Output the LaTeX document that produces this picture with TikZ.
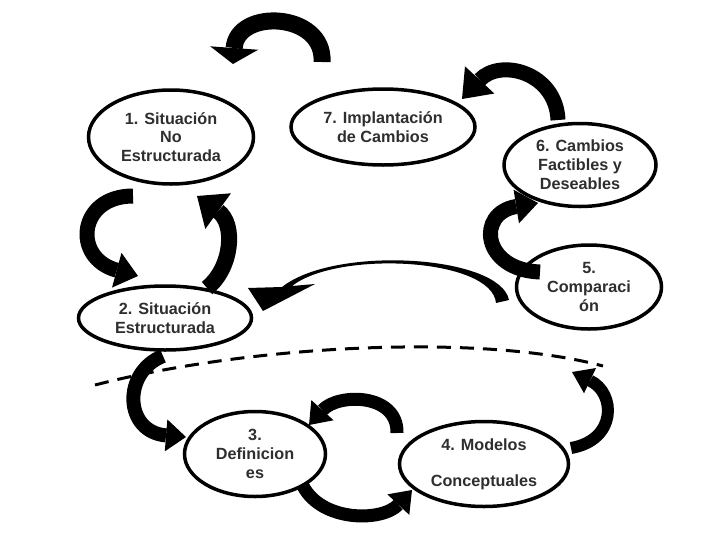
\documentclass[tikz,border=0pt]{standalone}
\usepackage{fontspec}
\setmainfont{Liberation Sans}
\usetikzlibrary{arrows.meta,shapes.geometric}
\begin{document}
\begin{tikzpicture}[x=1pt,y=-1pt,
  stage/.style={ellipse,draw=black,fill=white,line width=3.5pt,inner sep=0pt,align=center,
    font=\fontsize{16.2}{18.8}\selectfont\bfseries,text=black!82},
  band/.style={draw=black,line width=#1},
  dashline/.style={draw=black,line width=3pt,dash pattern=on 14pt off 9pt}
]
\useasboundingbox (0,0) rectangle (722,557);
\fill[white] (0,0) rectangle (722,557);

% nodes
\node[stage,minimum width=165pt,minimum height=94pt] (n1) at (171,137) {1. Situación\\No\\Estructurada};
\node[stage,minimum width=184pt,minimum height=76pt] (n7) at (383,127) {7. Implantación\\de Cambios};
\node[stage,minimum width=152pt,minimum height=83pt] (n6) at (580,165) {6. Cambios\\Factibles y\\Deseables};
\node[stage,minimum width=145pt,minimum height=84pt] (n5) at (589,287) {5.\\Comparaci\\ón};
\node[stage,minimum width=173pt,minimum height=64pt] (n2) at (165,318) {2. Situación\\Estructurada};
\node[stage,minimum width=141pt,minimum height=85pt] (n3) at (255,454) {3.\\Definicion\\es};
\node[stage,minimum width=169pt,minimum height=85pt] (n4) at (484,464) {4. Modelos\\[17pt]Conceptuales};

% arrow end points
\coordinate (aS) at (322,62);  \coordinate (aE) at (233,64);
\coordinate (bS) at (558,120); \coordinate (bE) at (462,99);
\coordinate (cS) at (133,196); \coordinate (cE) at (138,276);
\coordinate (dS) at (207,288); \coordinate (dE) at (197,196);
\coordinate (fS) at (540,272); \coordinate (fE) at (538,203);
\coordinate (gS) at (163,356); \coordinate (gE) at (186,437);
\coordinate (hS) at (397,433); \coordinate (hE) at (309,425);
\coordinate (kS) at (303,486); \coordinate (kE) at (412,490);
\coordinate (iS) at (571,448); \coordinate (iE) at (572,372);

% block arrows
\draw[band=17pt,-{Triangle[width=48pt,length=16pt,line width=0pt]}] (aS) .. controls (325,12) and (237,8) .. (aE);
\draw[band=15pt,-{Triangle[width=40pt,length=26pt,line width=0pt]}] (bS) .. controls (556,72) and (500,58) .. (bE);
\draw[band=15pt,-{Triangle[width=36pt,length=22pt,line width=0pt]}] (cS) .. controls (78,196) and (72,258) .. (cE);
\draw[band=16pt,-{Triangle[width=44pt,length=26pt,line width=0pt]}] (dS) .. controls (232,268) and (236,224) .. (dE);
\draw[band=15pt,-{Triangle[width=34pt,length=22pt,line width=0pt]}] (fS) .. controls (482,270) and (476,213) .. (fE);
\draw[band=14pt,-{Triangle[width=32pt,length=20pt,line width=0pt]}] (gS) .. controls (122,372) and (124,432) .. (gE);
\draw[band=13pt,-{Triangle[width=30pt,length=20pt,line width=0pt]}] (hS) .. controls (398,393) and (338,393) .. (hE);
\draw[band=13pt,-{Triangle[width=30pt,length=20pt,line width=0pt]}] (kS) .. controls (322,522) and (382,522) .. (kE);
\draw[band=12pt,-{Triangle[width=28pt,length=20pt,line width=0pt]}] (iS) .. controls (617,440) and (616,393) .. (iE);

% thin arrow from 5 to 2
\fill[black] (509,300) .. controls (500,255) and (335,245) .. (282,287)
  -- (248,288) -- (263,311) -- (315,284) -- (292,286)
  .. controls (338,250) and (492,258) .. (496,303) -- cycle;

% dashed boundary
\draw[dashline] (95,385) .. controls (250,345) and (480,333) .. (603,366);
\end{tikzpicture}
\end{document}
